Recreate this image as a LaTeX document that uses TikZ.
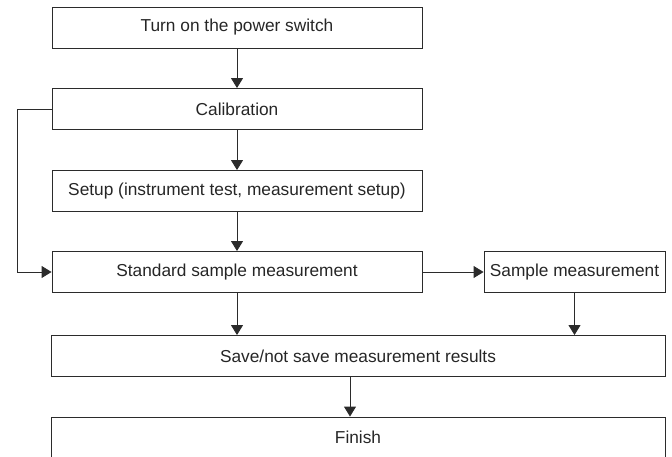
\documentclass[tikz,border=0pt]{standalone}
\usepackage{fontspec}
\setmainfont{Liberation Sans}
\usepackage{xcolor}
\usepackage{tikz}
\usetikzlibrary{calc, arrows.meta}

\definecolor{linegray}{HTML}{2B2B2B}

\tikzset{
	stepbox/.style={draw=linegray, line width=0.9pt, rectangle, minimum height=41pt, inner sep=0pt, text=black!85, font=\fontsize{17.3}{20}\selectfont},
	flow/.style={draw=linegray, line width=0.9pt, -{Triangle[length=10pt, width=12pt]}}
}

\begin{document}
\begin{tikzpicture}[x=1pt, y=-1pt]
			\def\W{672};
			\def\H{457};

			\def\xL{237};
			\def\wL{370};
			\def\wS{181};
			\def\wB{614};

			\useasboundingbox (0,0) rectangle (\W,\H);
			\clip (0,0) rectangle (\W,\H);

			\begin{scope}
				\node[stepbox, minimum width=\wL] (power) at (\xL,27.5) {Turn on the power switch};
				\node[stepbox, minimum width=\wL] (calib) at (\xL,109) {Calibration};
				\node[stepbox, minimum width=\wL] (setup) at (\xL,191) {Setup (instrument test, measurement setup)};
				\node[stepbox, minimum width=\wL] (stdmeas) at (\xL,272) {Standard sample measurement};
				\node[stepbox, minimum width=\wS] (smpmeas) at (574.5,272) {Sample measurement};
				\node[stepbox, minimum width=\wB] (save) at (358,356) {Save/not save measurement results};
				\node[stepbox, minimum width=\wB] (finish) at (358,437.5) {Finish};
			\end{scope}

			\begin{scope}[flow]
				\draw (power) -- (calib);
				\draw (calib) -- (setup);
				\draw (setup) -- (stdmeas);
				\draw (calib.west) -- ++(-34.5,0) |- (stdmeas.west);
				\draw (stdmeas) -- (smpmeas);
				\draw (stdmeas.south) -- (stdmeas.south |- save.north);
				\draw (smpmeas.south) -- (smpmeas.south |- save.north);
				\draw ([xshift=-8pt]save.south) -- ([xshift=-8pt]finish.north);
			\end{scope}
		\end{tikzpicture}
\end{document}
